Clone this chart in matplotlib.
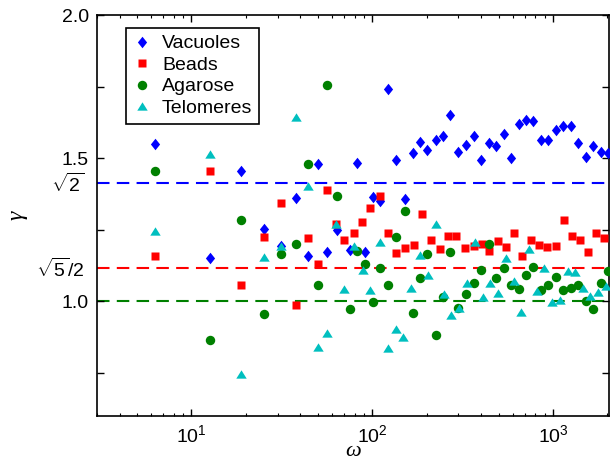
import numpy as np
import matplotlib
matplotlib.use('Agg')
import matplotlib.pyplot as plt
from matplotlib.ticker import FixedLocator, FixedFormatter

# omega grid shared by vacuoles and agarose
omega_va = [6.28, 12.6, 18.8, 25.1, 31.4, 37.7, 44.0, 50.3, 56.5, 64.0,
            75.2, 81.9, 91.5, 100.7, 110.4, 121.5, 135.7, 151.4, 167.4, 183,
            202, 224, 246, 271, 300, 330, 364, 401, 440, 484,
            534, 586, 645, 709, 780, 859, 942, 1039, 1140, 1254,
            1380, 1522, 1670, 1832, 2016]
gamma_vacuoles = [1.551, 1.153, 1.457, 1.254, 1.193, 1.361, 1.160, 1.480, 1.174, 1.251,
                  1.179, 1.484, 1.173, 1.365, 1.349, 1.741, 1.495, 1.358, 1.518, 1.557,
                  1.527, 1.562, 1.579, 1.652, 1.522, 1.547, 1.577, 1.494, 1.552, 1.544,
                  1.583, 1.502, 1.621, 1.634, 1.631, 1.564, 1.562, 1.599, 1.611, 1.611,
                  1.553, 1.505, 1.544, 1.523, 1.518]
gamma_agarose = [1.457, 0.865, 1.286, 0.956, 1.167, 1.199, 1.480, 1.056, 1.756, 1.369,
                 0.973, 1.176, 1.130, 0.998, 1.118, 1.059, 1.225, 1.315, 0.961, 1.082,
                 1.167, 0.884, 1.014, 1.174, 0.978, 1.025, 1.064, 1.110, 1.201, 1.082,
                 1.117, 1.057, 1.042, 1.091, 1.120, 1.039, 1.059, 1.085, 1.039, 1.046,
                 1.056, 1.003, 0.975, 1.065, 1.105]

omega_beads = [6.28, 12.6, 18.8, 25.1, 31.4, 37.7, 44.0, 50.3, 56.5, 62.8,
               69.4, 78.8, 88.1, 97.5, 110.7, 122.3, 135.7, 152.2, 170.9, 188.9,
               212.1, 237.5, 264, 291.2, 327.7, 363.8, 402.7, 444.6, 496.2, 550,
               611.2, 674.2, 755.8, 840.2, 927.8, 1039, 1154, 1274, 1411, 1563,
               1728, 1916]
gamma_beads = [1.158, 1.457, 1.056, 1.225, 1.343, 0.986, 1.221, 1.131, 1.388, 1.270,
               1.216, 1.238, 1.276, 1.325, 1.369, 1.239, 1.168, 1.186, 1.196, 1.304,
               1.214, 1.183, 1.230, 1.230, 1.186, 1.193, 1.200, 1.175, 1.210, 1.189,
               1.239, 1.158, 1.216, 1.196, 1.189, 1.193, 1.286, 1.228, 1.214, 1.172,
               1.239, 1.221]

omega_telo = [6.28, 12.6, 18.8, 25.1, 31.4, 37.7, 44.0, 50.3, 56.5, 62.8,
              69.4, 78.8, 88.4, 97.5, 110.4, 123, 135.7, 148.9, 164.3, 183.2,
              202.9, 224.6, 249.9, 274.2, 303.6, 335.3, 371.2, 408.3, 449.3, 495.5,
              550, 605, 668.3, 739.8, 815.9, 897.5, 988.6, 1090.5, 1204, 1328,
              1464, 1612, 1780, 1963]
gamma_telo = [1.245, 1.516, 0.746, 1.156, 1.193, 1.644, 1.402, 0.842, 0.891, 1.272,
              1.044, 1.195, 1.111, 1.039, 1.206, 0.836, 0.905, 0.875, 1.047, 1.161,
              1.094, 1.272, 1.027, 0.951, 0.978, 1.066, 1.206, 1.017, 1.066, 1.028,
              1.151, 1.071, 0.963, 1.184, 1.038, 1.117, 0.997, 1.004, 1.106, 1.102,
              1.048, 1.018, 1.033, 1.053]

ref_levels = [np.sqrt(2), np.sqrt(5) / 2, 1.0]
ref_colors = ['b', 'r', 'g']

plt.rcParams['font.family'] = 'Liberation Sans'
plt.rcParams['mathtext.fontset'] = 'custom'
plt.rcParams['mathtext.rm'] = 'Liberation Sans'
plt.rcParams['mathtext.it'] = 'Liberation Sans:italic'

fig = plt.figure(figsize=(6.13, 4.68), dpi=100)
ax = fig.add_axes([0.1582, 0.1111, 0.8352, 0.8568])

diamond = [(0, 1), (0.8, 0), (0, -1), (-0.8, 0), (0, 1)]
triangle = [(0, 0.8), (1, -0.8), (-1, -0.8), (0, 0.8)]

for lev, c in zip(ref_levels, ref_colors):
    ax.axhline(lev, color=c, lw=1.5, dashes=(6, 3.5), zorder=1)

ax.plot(omega_va, gamma_vacuoles, ls='none', marker=diamond, ms=8.3, color='b',
        mec='none', label='Vacuoles', zorder=3)
ax.plot(omega_beads, gamma_beads, ls='none', marker='s', ms=6, color='r',
        mec='none', label='Beads', zorder=3)
ax.plot(omega_va, gamma_agarose, ls='none', marker='o', ms=6.8, color='g',
        mec='none', label='Agarose', zorder=3)
ax.plot(omega_telo, gamma_telo, ls='none', marker=triangle, ms=7.5, color='c',
        mec='none', label='Telomeres', zorder=3)

ax.set_xscale('log')
ax.set_xlim(3, 2040)
ax.set_ylim(0.6, 2.0)

ax.set_yticks([0.75, 1.0, 1.25, 1.5, 1.75, 2.0])
ax.set_yticklabels(['', '1.0', '', '1.5', '', '2.0'])
ax.yaxis.set_minor_locator(FixedLocator([np.sqrt(5) / 2, np.sqrt(2)]))
ax.yaxis.set_minor_formatter(FixedFormatter([r'$\sqrt{5}/2$', r'$\sqrt{2}$']))

ax.tick_params(which='both', direction='in', top=True, right=True, labelsize=14)
ax.tick_params(which='major', length=5, width=1, pad=6)
ax.tick_params(which='minor', axis='x', length=2.5, width=0.8)
ax.tick_params(which='minor', axis='y', length=0, pad=9)
for s in ax.spines.values():
    s.set_linewidth(1.2)

ax.set_xlabel('ω', fontfamily='Liberation Serif', style='italic', fontsize=16, labelpad=-3)
ax.set_ylabel('γ', fontfamily='Liberation Serif', style='italic', fontsize=17, labelpad=6)

leg = ax.legend(loc='upper left', bbox_to_anchor=(0.0566, 0.9676), borderaxespad=0,
                fontsize=14, fancybox=False, edgecolor='k', framealpha=1,
                handlelength=1.0, handletextpad=0.5, labelspacing=0.2, borderpad=0.35)
leg.get_frame().set_linewidth(1.2)

fig.savefig('out.png', dpi=100)
